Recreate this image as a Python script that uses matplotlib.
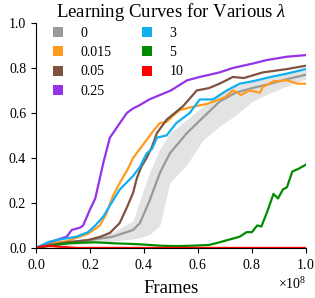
import numpy as np
import matplotlib
matplotlib.use("Agg")
import matplotlib.pyplot as plt
from matplotlib.patches import Patch
from matplotlib.ticker import ScalarFormatter

plt.rcParams['font.family'] = ['Liberation Serif', 'DejaVu Serif']
plt.rcParams['mathtext.fontset'] = 'custom'
plt.rcParams['mathtext.rm'] = 'Liberation Serif'
plt.rcParams['mathtext.it'] = 'Liberation Serif:italic'

# x in units of 1e8 frames
gray_x = [0, .05, .1, .2, .285, .36, .385, .422, .459, .496, .559, .619, .68, .74, .8, .87, .93, 1.0]
gray_y = [0, .01, .02, .035, .05, .08, .11, .213, .333, .42, .51, .58, .65, .69, .71, .73, .75, .77]
gray_hi = [0, .015, .03, .045, .07, .12, .21, .34, .44, .51, .57, .63, .69, .72, .74, .76, .78, .79]
gray_lo = [0, .005, .01, .02, .03, .04, .045, .06, .10, .29, .37, .48, .54, .59, .65, .69, .72, .75]

orange_x = [0, .05, .114, .15, .193, .237, .26, .285, .311, .34, .36, .385, .41, .435, .459, .484, .51, .533, .58, .633, .68, .70, .73, .76, .79, .83, .84, .88, .93, .97, 1.0]
orange_y = [0, .02, .03, .045, .063, .10, .15, .23, .29, .35, .40, .44, .48, .52, .555, .56, .59, .613, .627, .64, .66, .67, .70, .68, .70, .69, .715, .74, .745, .73, .73]

brown_x = [0, .05, .114, .193, .24, .274, .31, .337, .36, .374, .39, .41, .43, .448, .484, .545, .596, .64, .68, .73, .77, .84, .93, 1.0]
brown_y = [0, .012, .025, .035, .05, .067, .11, .18, .245, .31, .36, .40, .45, .51, .57, .63, .70, .71, .73, .76, .755, .78, .795, .81]

purple_x = [0, .05, .114, .133, .163, .175, .2, .22, .25, .274, .311, .337, .36, .385, .42, .47, .5, .56, .607, .68, .73, .805, .855, .93, 1.0]
purple_y = [0, .025, .05, .08, .09, .10, .17, .22, .38, .49, .555, .60, .62, .635, .66, .685, .70, .745, .76, .78, .80, .82, .835, .85, .857]

blue_x = [0, .05, .1, .15, .193, .22, .25, .28, .311, .36, .385, .41, .43, .448, .484, .52, .57, .607, .656, .707, .755, .8, .87, .93, 1.0]
blue_y = [0, .028, .04, .05, .07, .10, .14, .20, .26, .32, .36, .42, .44, .49, .50, .555, .60, .66, .66, .70, .73, .74, .76, .775, .795]

green_x = [0, .05, .1, .137, .18, .22, .3, .35, .4, .46, .52, .58, .64, .68, .71, .74, .755, .78, .8, .82, .835, .855, .88, .897, .915, .93, .95, .97, 1.0]
green_y = [0, .01, .018, .022, .024, .025, .02, .018, .015, .01, .008, .01, .013, .025, .035, .045, .05, .07, .07, .1, .095, .155, .24, .22, .26, .27, .34, .35, .37]

red_x = [0, .03, .06, .1, .15, 1.0]
red_y = [0, .008, .008, .004, 0, 0]

labels = ['0', '0.015', '0.05', '0.25', '3', '5', '10']
colors = ['#999999', '#ff9b21', '#7f5240', '#9433e8', '#12aff0', '#008c00', '#ff0000']

fig = plt.figure(figsize=(3.15, 2.98), dpi=100)
ax = fig.add_axes([0.114, 0.168, 0.857, 0.755])

sc = 1e8
ax.fill_between(np.array(gray_x) * sc, gray_lo, gray_hi, color='#e3e3e3', lw=0, zorder=1)
lw = 1.6
series = [(gray_x, gray_y), (orange_x, orange_y), (brown_x, brown_y), (purple_x, purple_y),
          (blue_x, blue_y), (green_x, green_y)]
for (xs, ys), c in zip(series, colors[:6]):
    ax.plot(np.array(xs) * sc, ys, color=c, lw=lw, zorder=2)
ax.plot(np.array(red_x) * sc, red_y, color=colors[6], lw=lw, zorder=2)

ax.set_xlim(0, 1e8)
ax.set_ylim(0, 1.0)
ax.set_yticks([0, .2, .4, .6, .8, 1.0])
ax.set_xticks(np.array([0, .2, .4, .6, .8, 1.0]) * sc)
fmt = ScalarFormatter(useMathText=True)
ax.xaxis.set_major_formatter(fmt)
ax.yaxis.set_major_formatter(plt.FormatStrFormatter('%.1f'))
ax.spines['top'].set_visible(False)
ax.spines['right'].set_visible(False)
ax.tick_params(labelsize=10, length=3.5, direction='out')
ax.set_xlabel('Frames', fontsize=13.5, labelpad=6)
ax.set_title(r'Learning Curves for Various $\lambda$', fontsize=13.5, pad=3.5)
ax.xaxis.get_offset_text().set_fontsize(10)

handles = [Patch(facecolor=c, edgecolor='none') for c in colors]
leg = ax.legend(handles, labels, ncol=2, frameon=False, loc='upper left',
                bbox_to_anchor=(0.043, 1.007), borderaxespad=0, fontsize=10,
                handlelength=0.72, handleheight=0.72,
                handletextpad=1.25, columnspacing=2.2, labelspacing=0.45)

fig.savefig('out.png', dpi=100)
